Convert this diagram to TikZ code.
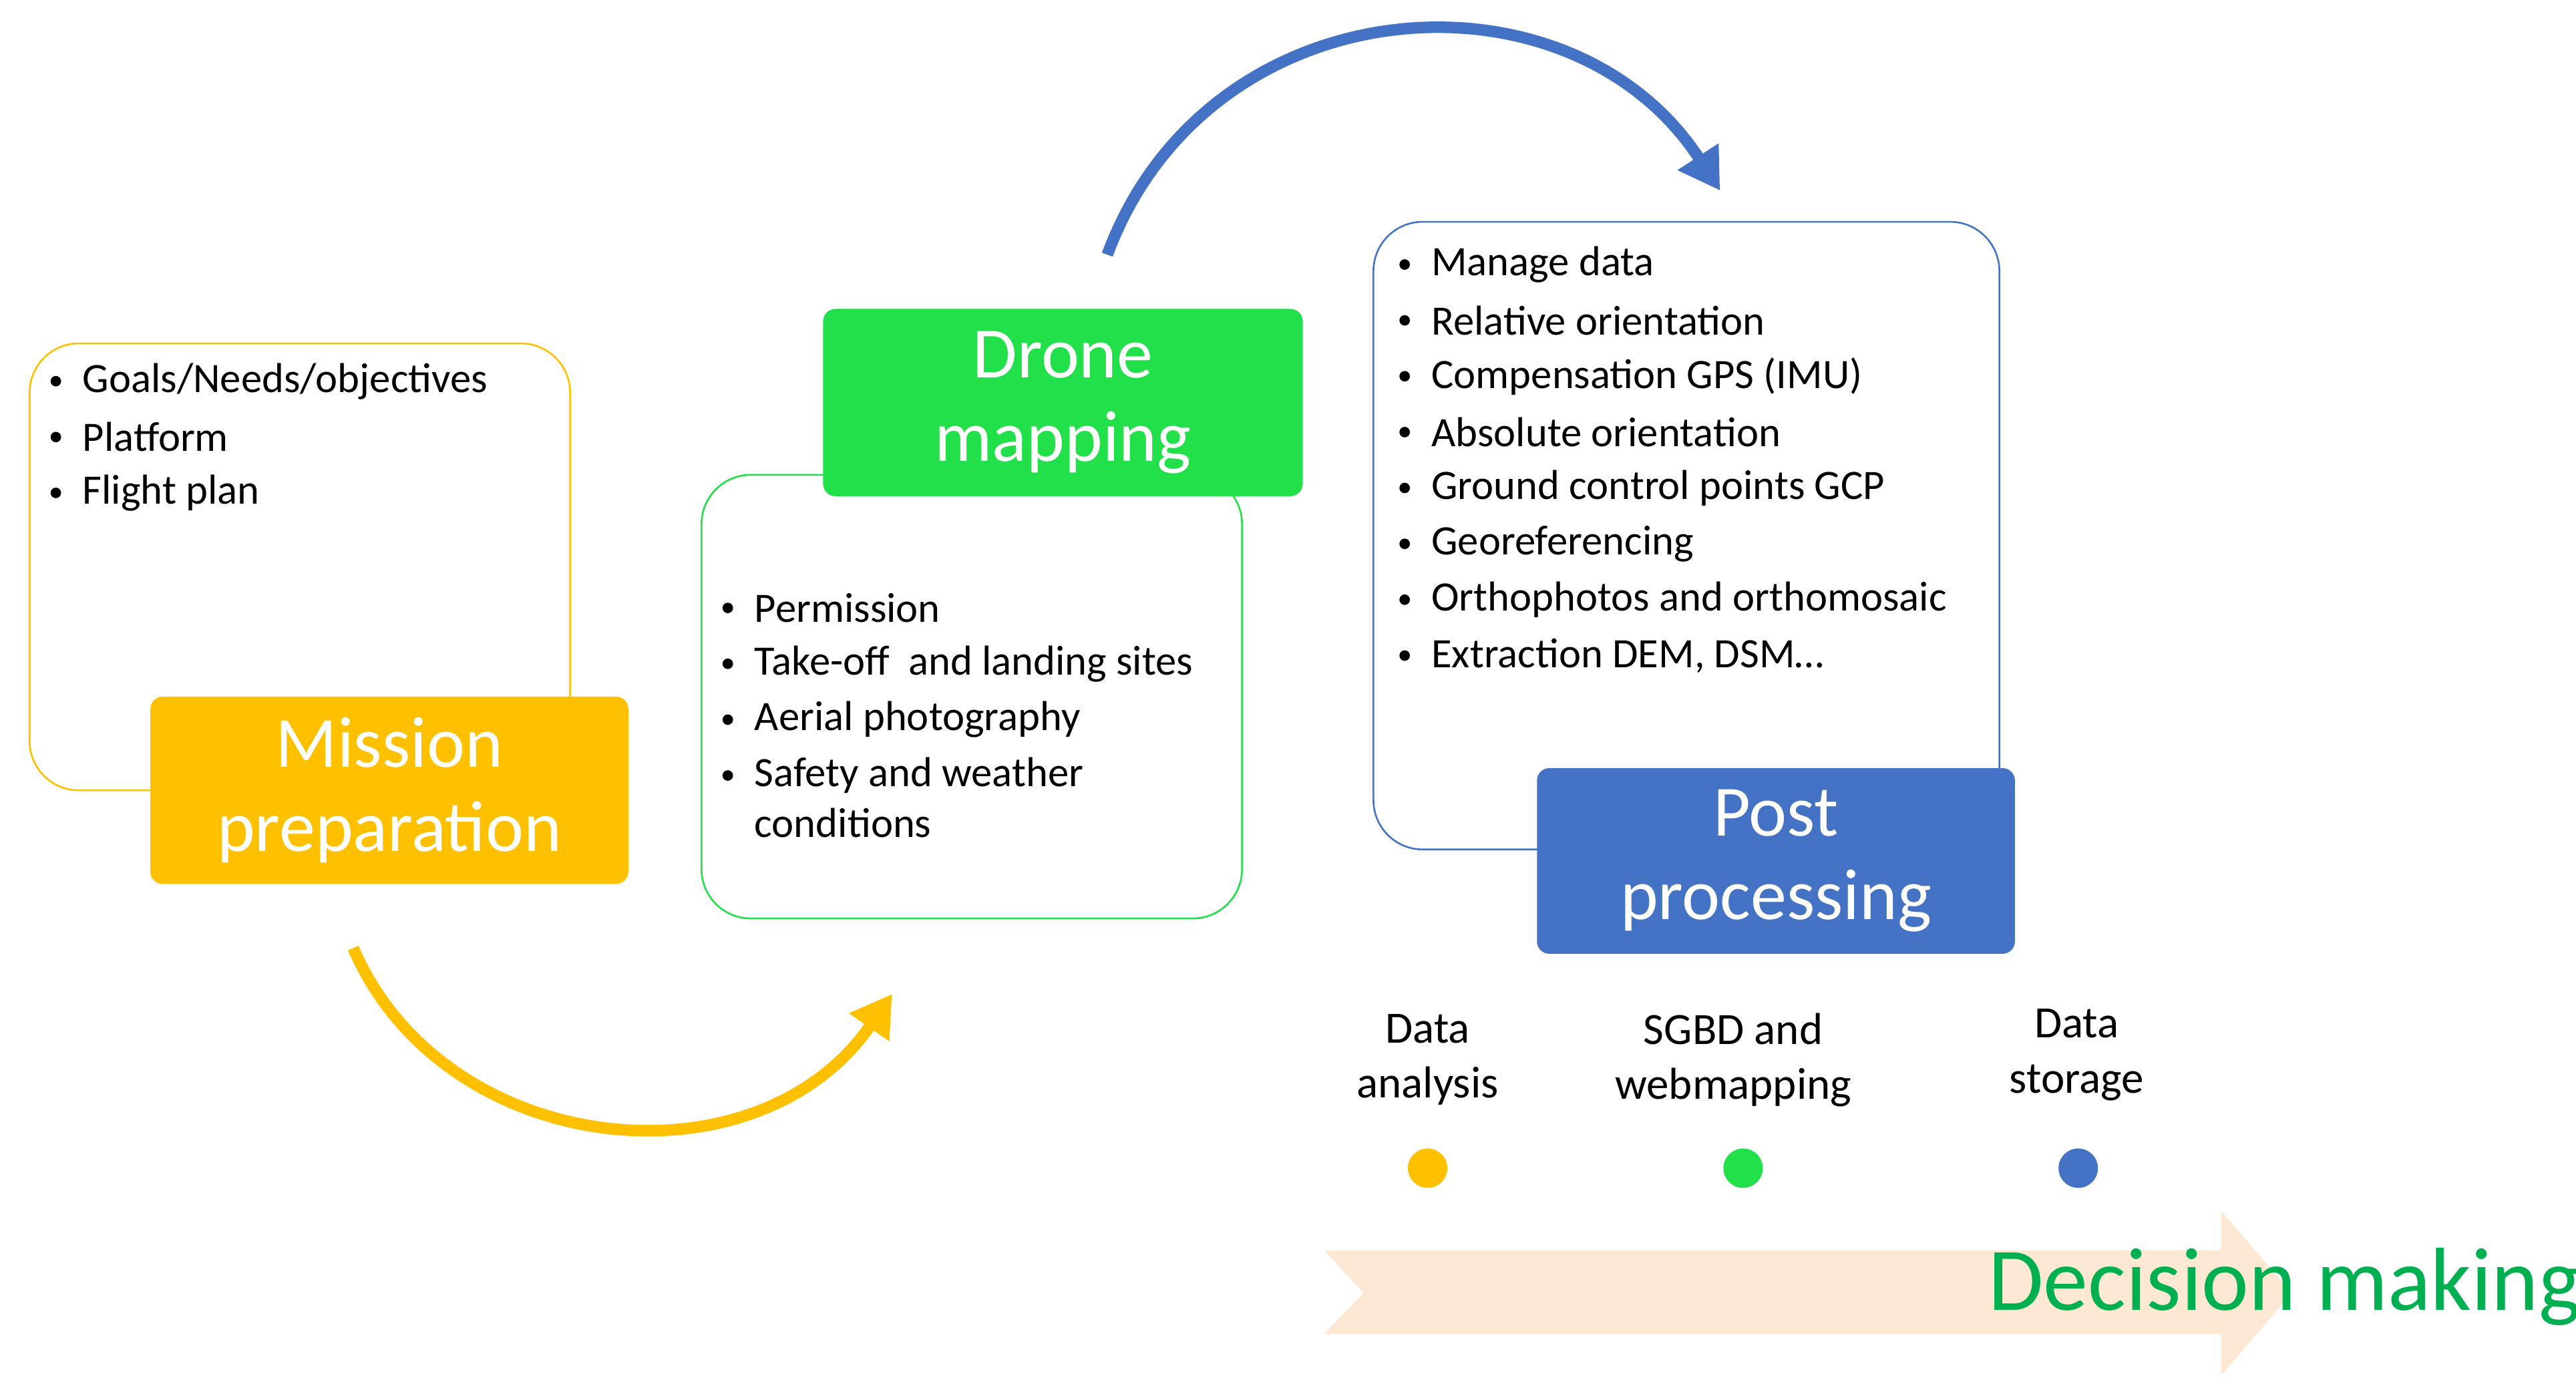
\documentclass[tikz,border=0pt]{standalone}
\usepackage{fontspec}
\setmainfont{Carlito}
\usetikzlibrary{arrows.meta}
\definecolor{yel}{HTML}{FFC000}
\definecolor{grn}{HTML}{22E04A}
\definecolor{blu}{HTML}{4472C4}
\definecolor{peach}{HTML}{FDE9D3}
\definecolor{dgrn}{HTML}{00B050}
\begin{document}
\begin{tikzpicture}[x=0.02cm,y=-0.02cm,
  outl/.style={rounded corners=0.6cm,line width=0.6pt},
  title/.style={rounded corners=0.15cm,text=white,font=\fontsize{25}{29}\selectfont,align=center,inner sep=0pt},
  item/.style={anchor=west,font=\fontsize{14.5}{17}\selectfont,inner sep=0pt},
  lab/.style={font=\fontsize{15.5}{19}\selectfont,align=center,inner sep=0pt},
  arc/.style={line width=4pt,-{Triangle[length=14pt,width=16pt]}}]
\useasboundingbox (0,0) rectangle (1568,847);
% outline boxes
\draw[outl,yel] (18,209) rectangle (347,481);
\draw[outl,grn] (427,289) rectangle (756,559);
\draw[outl,blu] (836,135) rectangle (1217,517);
% title boxes
\node[title,fill=yel,minimum width=5.82cm,minimum height=2.28cm] (mp) at (237,481) {Mission\\preparation};
\node[title,fill=grn,minimum width=5.84cm,minimum height=2.28cm] (dm) at (647,245) {Drone\\mapping};
\node[title,fill=blu,minimum width=5.82cm,minimum height=2.26cm] (pp) at (1081,524) {Post\\processing};
% lists
\foreach \t [count=\i] in {Goals/Needs/objectives,Platform,Flight plan}{
  \node[item] (y\i) at (50,232+34*\i-34) {\t};
  \fill (34,232+34*\i-34) circle (3.2);}
\foreach \t/\yy [count=\i] in {Permission/370,Take-off\ \ and landing sites/404,Aerial photography/438,Safety and weather/472}{
  \node[item] (g\i) at (459,\yy) {\t};
  \fill (443,\yy) circle (3.2);}
\node[item] (g5) at (459,501) {conditions};
\foreach \t [count=\i] in {Manage data,Relative orientation,Compensation GPS (IMU),Absolute orientation,Ground control points GCP,Georeferencing,Orthophotos and orthomosaic,{Extraction DEM, DSM…}}{
  \node[item] (b\i) at (871,161+34*\i-34) {\t};
  \fill (855,161+34*\i-34) circle (3.2);}
% arcs
\coordinate (a1) at (215,577); \coordinate (a2) at (543,605);
\draw[arc,yel] (a1) .. controls (270,705) and (460,725) .. (a2);
\coordinate (c1) at (674,155); \coordinate (c2) at (1047,116);
\draw[arc,blu] (c1) .. controls (735,-10) and (955,-25) .. (c2);
% big arrow
\fill[peach] (806,761) -- (1352,761) -- (1352,737) -- (1395,787) -- (1352,837) -- (1352,812) -- (806,812) -- (830,787) -- cycle;
\node[anchor=west,text=dgrn,font=\fontsize{31}{36}\selectfont,inner sep=0pt] (dec) at (1210,783) {Decision making};
% bottom labels
\node[lab] (l1) at (869,645) {Data\\analysis};
\node[lab] (l2) at (1055,645) {SGBD and\\webmapping};
\node[lab] (l3) at (1264,642) {Data\\storage};
\fill[yel] (869,711) circle (12);
\fill[grn] (1061,711) circle (12);
\fill[blu] (1265,711) circle (12);
\end{tikzpicture}
\end{document}
